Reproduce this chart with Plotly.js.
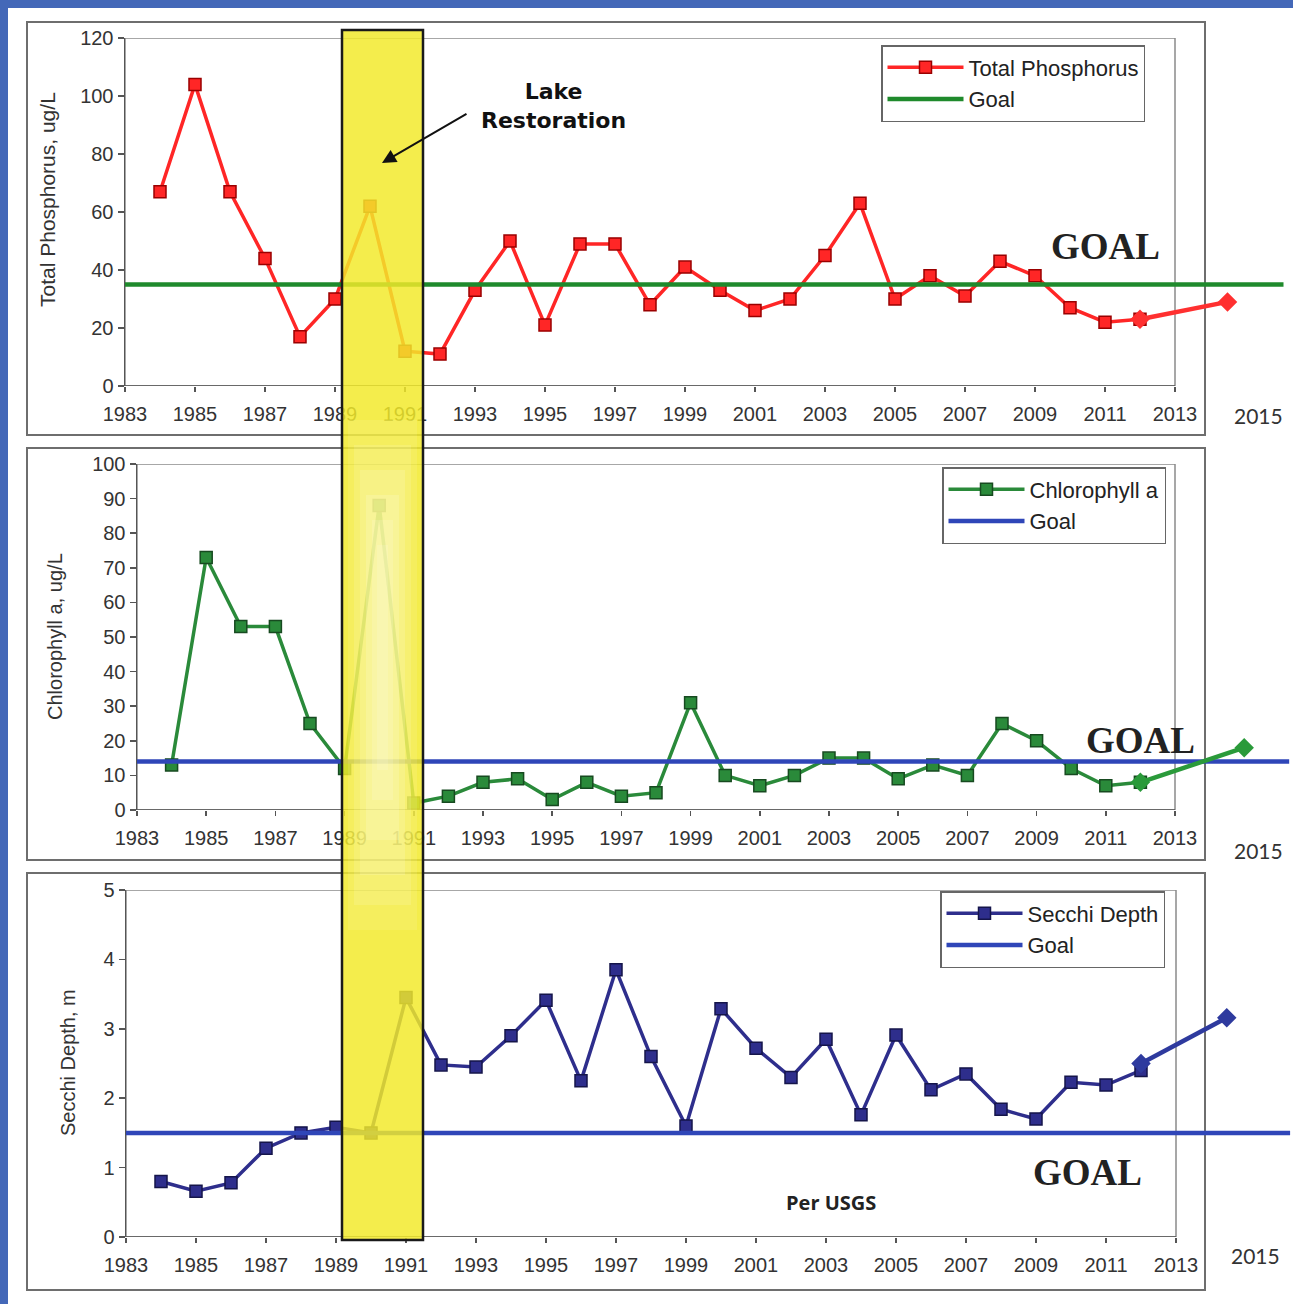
<!DOCTYPE html>
<html>
<head>
<meta charset="utf-8">
<script src="https://cdn.plot.ly/plotly-3.0.1.min.js"></script>
<style>html,body{margin:0;padding:0;background:#fff;}#chart{width:1293px;height:1304px;}</style>
</head>
<body>
<div id="chart"></div>
<script>
// ---------------- DATA ----------------
const years = [1984,1985,1986,1987,1988,1989,1990,1991,1992,1993,1994,1995,1996,1997,1998,1999,2000,2001,2002,2003,2004,2005,2006,2007,2008,2009,2010,2011,2012];
const totalPhosphorus = [67,104,67,44,17,30,62,12,11,33,50,21,49,49,28,41,33,26,30,45,63,30,38,31,43,38,27,22,23];
const chlorophyllA = [13,73,53,53,25,12,88,2,4,8,9,3,8,4,5,31,10,7,10,15,15,9,13,10,25,20,12,7,8];
const secchiDepth = [0.80,0.66,0.78,1.28,1.50,1.58,1.50,3.45,2.48,2.45,2.90,3.41,2.25,3.85,2.60,1.60,3.29,2.72,2.30,2.85,1.76,2.91,2.12,2.35,1.84,1.70,2.23,2.19,2.40];

const tpExtYears = [2012, 2014.5];
const tpExt = [23, 29];
const chlExtYears = [2012, 2015];
const chlExt = [8, 18];
const secchiExtYears = [2012, 2014.45];
const secchiExt = [2.5, 3.16];

const goalTP = 35;
const goalChl = 14;
const goalSecchi = 1.5;
const goalYearsTP = [1983, 2016.1];
const goalYearsChl = [1983, 2016.3];
const goalYearsSecchi = [1983, 2016.26];

const xTickYears = [1983,1985,1987,1989,1991,1993,1995,1997,1999,2001,2003,2005,2007,2009,2011,2013];
const yTicksTP = [0,20,40,60,80,100,120];
const yTicksChl = [0,10,20,30,40,50,60,70,80,90,100];
const yTicksSecchi = [0,1,2,3,4,5];

// ---------------- LAYOUT HELPERS ----------------
const W = 1293, H = 1304;
const px = x => x / W;
const py = y => 1 - y / H;

const tickFont = {family: 'Liberation Sans, Arial, sans-serif', size: 20, color: '#333'};
const legendFont = {family: 'Liberation Sans, Arial, sans-serif', size: 22, color: '#222'};

const RED = '#ff2626', GREEN = '#2a8a3a', NAVY = '#2e2e8c', GOALGREEN = '#1f8a2c', GOALBLUE = '#2f46b8';

const traces = [
  // Panel 1
  {x: years, y: totalPhosphorus, xaxis: 'x', yaxis: 'y', type: 'scatter', mode: 'lines+markers', name: 'Total Phosphorus',
   legend: 'legend', line: {color: RED, width: 3.5},
   marker: {symbol: 'square', size: 12, color: RED, line: {color: '#9a0000', width: 1.5}}, cliponaxis: false},
  {x: goalYearsTP, y: goalYearsTP.map(() => goalTP), xaxis: 'x', yaxis: 'y', type: 'scatter', mode: 'lines', name: 'Goal',
   legend: 'legend', line: {color: GOALGREEN, width: 4.5}},
  {x: tpExtYears, y: tpExt, xaxis: 'x', yaxis: 'y', type: 'scatter', mode: 'lines+markers', showlegend: false,
   line: {color: '#ff3030', width: 4.5}, marker: {symbol: 'diamond', size: 15, color: '#ff3030'}, cliponaxis: false},
  // Panel 2
  {x: years, y: chlorophyllA, xaxis: 'x2', yaxis: 'y2', type: 'scatter', mode: 'lines+markers', name: 'Chlorophyll a',
   legend: 'legend2', line: {color: GREEN, width: 3.5},
   marker: {symbol: 'square', size: 12, color: GREEN, line: {color: '#174a20', width: 1.5}}, cliponaxis: false},
  {x: goalYearsChl, y: goalYearsChl.map(() => goalChl), xaxis: 'x2', yaxis: 'y2', type: 'scatter', mode: 'lines', name: 'Goal',
   legend: 'legend2', line: {color: GOALBLUE, width: 4.5}},
  {x: chlExtYears, y: chlExt, xaxis: 'x2', yaxis: 'y2', type: 'scatter', mode: 'lines+markers', showlegend: false,
   line: {color: '#2a9a3a', width: 4.5}, marker: {symbol: 'diamond', size: 15, color: '#2a9a3a'}, cliponaxis: false},
  // Panel 3
  {x: years, y: secchiDepth, xaxis: 'x3', yaxis: 'y3', type: 'scatter', mode: 'lines+markers', name: 'Secchi Depth',
   legend: 'legend3', line: {color: NAVY, width: 3.5},
   marker: {symbol: 'square', size: 12, color: NAVY, line: {color: '#15154a', width: 1.5}}, cliponaxis: false},
  {x: goalYearsSecchi, y: goalYearsSecchi.map(() => goalSecchi), xaxis: 'x3', yaxis: 'y3', type: 'scatter', mode: 'lines', name: 'Goal',
   legend: 'legend3', line: {color: GOALBLUE, width: 4.5}},
  {x: secchiExtYears, y: secchiExt, xaxis: 'x3', yaxis: 'y3', type: 'scatter', mode: 'lines+markers', showlegend: false,
   line: {color: '#2e3a9e', width: 4.5}, marker: {symbol: 'diamond', size: 15, color: '#2e3a9e'}, cliponaxis: false}
];

function xAxis(domainLeft, pxPerYear, yAnchor) {
  const right = 1983 + (W - domainLeft) / pxPerYear;
  return {domain: [px(domainLeft), 1], range: [1983, right], anchor: yAnchor, showline: false, showgrid: false, zeroline: false,
    tickmode: 'array', tickvals: xTickYears, ticktext: xTickYears.map(String), ticks: 'outside', ticklen: 5, tickwidth: 1.5,
    tickcolor: '#555', tickfont: tickFont, ticklabelstandoff: 5, fixedrange: true};
}
function yAxis(top, bottom, range, tickvals, xAnchor) {
  return {domain: [py(bottom), py(top)], range: range, anchor: xAnchor, showline: true, linecolor: '#555', linewidth: 1.5,
    showgrid: false, zeroline: false, tickmode: 'array', tickvals: tickvals, ticks: 'outside', ticklen: 6, tickwidth: 1.5,
    tickcolor: '#555', tickfont: tickFont, fixedrange: true};
}

function legendAt(x, y) {
  return {x: px(x), y: py(y), xanchor: 'left', yanchor: 'top', bgcolor: '#fff', bordercolor: '#666', borderwidth: 1.5,
    font: legendFont, itemwidth: 76, tracegroupgap: 0, traceorder: 'normal'};
}

const shapes = [];
// outer chart boxes
[[22,435],[448,860],[873,1290]].forEach(([t,b]) => {
  shapes.push({type: 'rect', xref: 'paper', yref: 'paper', x0: px(27), x1: px(1205), y0: py(b), y1: py(t),
    line: {color: '#6e6e6e', width: 2}, layer: 'below'});
});
// plot-area boxes (data coords)
[['x','y',120],['x2','y2',100],['x3','y3',5]].forEach(([xa,ya,top]) => {
  shapes.push({type: 'rect', xref: xa, yref: ya, x0: 1983, x1: 2013, y0: 0, y1: top, line: {color: '#8a8a8a', width: 1.5}, layer: 'below'});
  shapes.push({type: 'line', xref: xa, yref: ya, x0: 1983, x1: 2013, y0: 0, y1: 0, line: {color: '#555', width: 1.5}, layer: 'below'});
});
// blue frame
shapes.push({type: 'rect', xref: 'paper', yref: 'paper', x0: 0, x1: 1, y0: py(8), y1: 1, fillcolor: '#4468b8', line: {width: 0}, layer: 'above'});
shapes.push({type: 'rect', xref: 'paper', yref: 'paper', x0: 0, x1: px(8), y0: 0, y1: 1, fillcolor: '#4468b8', line: {width: 0}, layer: 'above'});
// yellow restoration band
shapes.push({type: 'rect', xref: 'paper', yref: 'paper', x0: px(342), x1: px(423), y0: py(1240), y1: py(30),
  fillcolor: '#f2ea2a', opacity: 0.84, line: {width: 0}, layer: 'above'});
[[348,417,420,930,0.10],[354,411,445,905,0.12],[360,405,470,875,0.14],[366,399,495,840,0.15],[372,393,520,800,0.14],[377,388,545,770,0.12]].forEach(([l,r,t,b,o]) => {
  shapes.push({type: 'rect', xref: 'paper', yref: 'paper', x0: px(l), x1: px(r), y0: py(b), y1: py(t),
    fillcolor: '#ffffff', opacity: o, line: {width: 0}, layer: 'above'});
});
shapes.push({type: 'rect', xref: 'paper', yref: 'paper', x0: px(342), x1: px(423), y0: py(1240), y1: py(30),
  fillcolor: 'rgba(0,0,0,0)', line: {color: '#1a1a1a', width: 2.5}, layer: 'above'});

const titleFont = {family: 'Liberation Sans, Arial, sans-serif', size: 20, color: '#333'};
const goalFont = {family: 'Liberation Serif, Times New Roman, serif', size: 37, color: '#222'};
const yearFont = {family: 'Lato, Open Sans, sans-serif', size: 21, color: '#333'};

function note(x, y, text, font, extra) {
  return Object.assign({xref: 'paper', yref: 'paper', x: px(x), y: py(y), xanchor: 'center', yanchor: 'middle',
    text: text, showarrow: false, font: font}, extra || {});
}

const annotations = [
  note(47, 200, 'Total Phosphorus, ug/L', Object.assign({}, titleFont, {size: 21}), {textangle: -90}),
  note(55, 637, 'Chlorophyll a, ug/L', titleFont, {textangle: -90}),
  note(68, 1063, 'Secchi Depth, m', titleFont, {textangle: -90}),
  note(553, 106, '<b>Lake</b><br><b>Restoration</b>', {family: 'DejaVu Sans, Verdana, sans-serif', size: 22, color: '#111'}),
  {xref: 'paper', yref: 'paper', x: px(382), y: py(163), ax: 86, ay: -50, axref: 'pixel', ayref: 'pixel', text: '', showarrow: true,
   arrowhead: 2, arrowsize: 1.4, arrowwidth: 2, arrowcolor: '#111', standoff: 0},
  note(1105, 247, '<b>GOAL</b>', goalFont),
  note(1140, 740, '<b>GOAL</b>', goalFont),
  note(1087, 1172, '<b>GOAL</b>', goalFont),
  note(831, 1202, '<b>Per USGS</b>', {family: 'Open Sans, Lato, sans-serif', size: 20, color: '#222'}),
  note(1258, 416, '2015', yearFont),
  note(1258, 851, '2015', yearFont),
  note(1255, 1255, '2015', yearFont)
];

const layout = {
  width: W, height: H, margin: {l: 0, r: 0, t: 0, b: 0},
  paper_bgcolor: '#ffffff', plot_bgcolor: 'rgba(0,0,0,0)',
  xaxis: xAxis(125, 35, 'y'),
  yaxis: yAxis(38, 386, [0, 120], yTicksTP, 'x'),
  xaxis2: xAxis(137, 34.6, 'y2'),
  yaxis2: yAxis(464, 810, [0, 100], yTicksChl, 'x2'),
  xaxis3: xAxis(126, 35, 'y3'),
  yaxis3: yAxis(890, 1237, [0, 5], yTicksSecchi, 'x3'),
  legend: legendAt(881, 45),
  legend2: legendAt(942, 467),
  legend3: legendAt(940, 891),
  shapes: shapes,
  annotations: annotations,
  showlegend: true
};

Plotly.newPlot('chart', traces, layout, {displayModeBar: false, staticPlot: true});
</script>
</body>
</html>
